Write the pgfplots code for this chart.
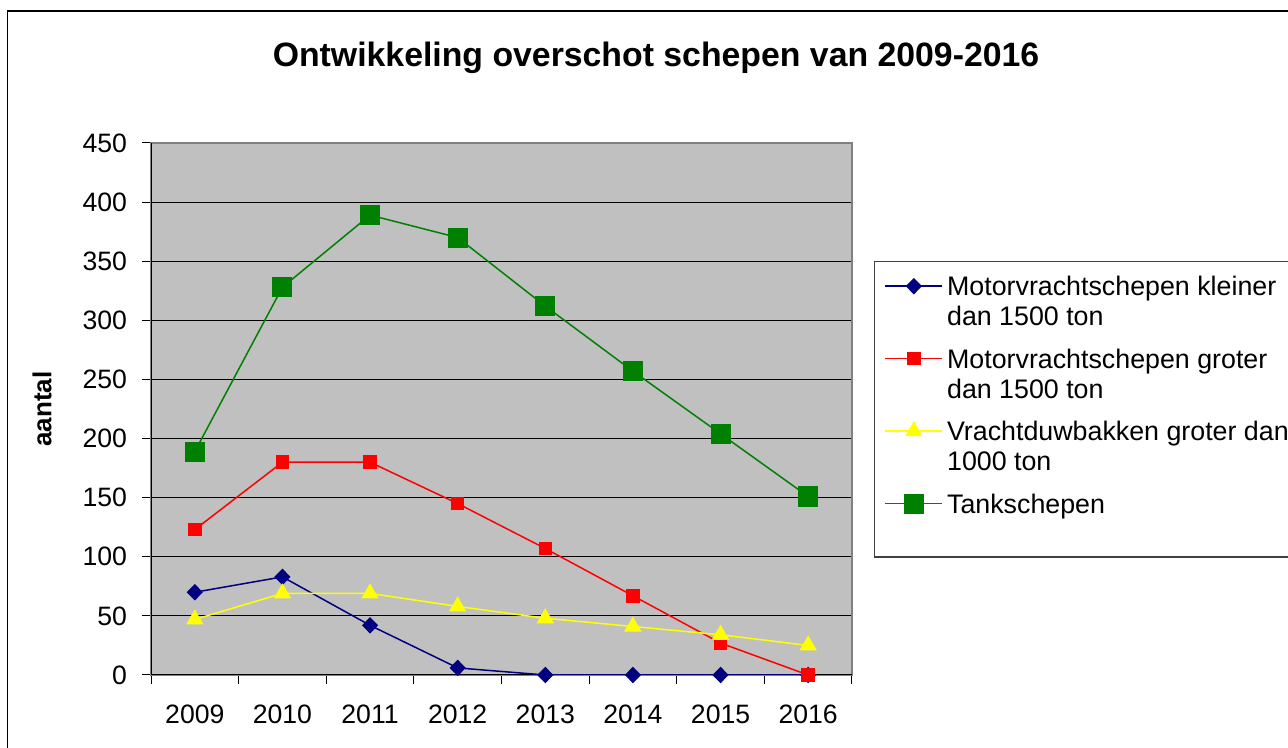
\documentclass[border=0pt]{standalone}
\usepackage{fontspec}
\setmainfont{Liberation Sans}
\usepackage{pgfplots}
\pgfplotsset{compat=1.18}
\definecolor{bgray}{HTML}{C0C0C0}
\definecolor{navy}{HTML}{000080}
\definecolor{xgreen}{HTML}{008000}
\definecolor{xred}{HTML}{FF0000}
\definecolor{xyellow}{HTML}{FFFF00}
\definecolor{bordergray}{HTML}{808080}
\newcommand{\fA}{\rule[-4.5pt]{0pt}{15pt}}
\newcommand{\fB}{\rule[-10.75pt]{0pt}{21.25pt}}
\newcommand{\fC}{\rule[-15.5pt]{0pt}{26pt}}
\begin{document}
\begin{tikzpicture}
\useasboundingbox (0,0) rectangle (644pt,374pt);
\clip (0,0) rectangle (644pt,374pt);
\fill[white] (0,0) rectangle (644pt,374pt);
\draw[black, line width=0.6pt] (3.75pt,-5pt) rectangle (700pt,368.5pt);
\node[font=\fontsize{16.9}{20}\selectfont\bfseries] at (328pt,345pt) {Ontwikkeling overschot schepen van 2009-2016};
\begin{axis}[
  at={(75.5pt,36.5pt)}, anchor=south west,
  scale only axis, width=350.5pt, height=266pt,
  xmin=-0.5, xmax=7.5, ymin=0, ymax=450,
  xtick={0,...,7},
  xticklabels={2009,2010,2011,2012,2013,2014,2015,2016},
  minor xtick={-0.5,0.5,...,7.5},
  ytick={0,50,...,450},
  tick pos=left,
  ymajorgrids,
  grid style={black, line width=0.5pt},
  tick align=outside,
  major tick length=4.5pt, minor tick length=4.5pt,
  tick style={black, line width=0.5pt},
  major x tick style={draw=none},
  axis line style={draw=bordergray, line width=0.6pt},
  axis background/.style={fill=bgray},
  /pgf/number format/assume math mode=true,
  ticklabel style={font=\fontsize{13.3}{15}\selectfont},
  xticklabel style={yshift=-7pt},
  yticklabel style={xshift=-4pt},
  ylabel={aantal},
  every axis y label/.style={at={(axis description cs:-0.1555,0.5)}, anchor=center, rotate=90, font=\fontsize{13}{15}\selectfont\bfseries},
  legend style={at={(axis description cs:1.0314,0.7782)}, anchor=north west,
    draw=black!75, line width=0.6pt, fill=white,
    font=\fontsize{13.4}{15}\selectfont,
    inner xsep=5pt, inner ysep=6.5pt, row sep=0pt, column sep=2pt,
    cells={anchor=base west},
    nodes={inner xsep=0pt, inner ysep=0pt, text depth=, text height=}},
  legend image code/.code={\draw[mark repeat=2,mark phase=2,yshift=4.7pt] plot coordinates {(0pt,0pt) (14.25pt,0pt) (28.5pt,0pt)};},
]
\draw[black, line width=0.6pt] (rel axis cs:0,1) -- (rel axis cs:0,0) -- (rel axis cs:1,0);
\addplot[navy, line width=0.75pt, mark=diamond*, mark size=3.6pt, mark options={fill=navy, draw=navy, xscale=1.3}]
  coordinates {(0,70)(1,83)(2,42)(3,6)(4,0)(5,0)(6,0)(7,0)};
\addlegendentry{Motorvrachtschepen kleiner\fA}
\addlegendimage{empty legend}
\addlegendentry{dan 1500 ton\fB}
\addplot[xred, line width=0.75pt, mark=square*, mark size=3pt, mark options={fill=xred, draw=xred}]
  coordinates {(0,123)(1,180)(2,180)(3,145)(4,107)(5,67)(6,27)(7,0)};
\addlegendentry{Motorvrachtschepen groter\fA}
\addlegendimage{empty legend}
\addlegendentry{dan 1500 ton\fB}
\addplot[xyellow, line width=0.75pt, mark=triangle*, mark size=4.3pt, mark options={fill=xyellow, draw=xyellow}]
  coordinates {(0,47)(1,69)(2,69)(3,58)(4,48)(5,41)(6,34)(7,25)};
\addlegendentry{Vrachtduwbakken groter dan\fA}
\addlegendimage{empty legend}
\addlegendentry{1000 ton\fB}
\addplot[xgreen, line width=0.75pt, mark=square*, mark size=4.65pt, mark options={fill=xgreen, draw=xgreen}]
  coordinates {(0,189)(1,328)(2,389)(3,370)(4,312)(5,257)(6,204)(7,151)};
\addlegendentry{Tankschepen\fC}
\end{axis}
\end{tikzpicture}
\end{document}
